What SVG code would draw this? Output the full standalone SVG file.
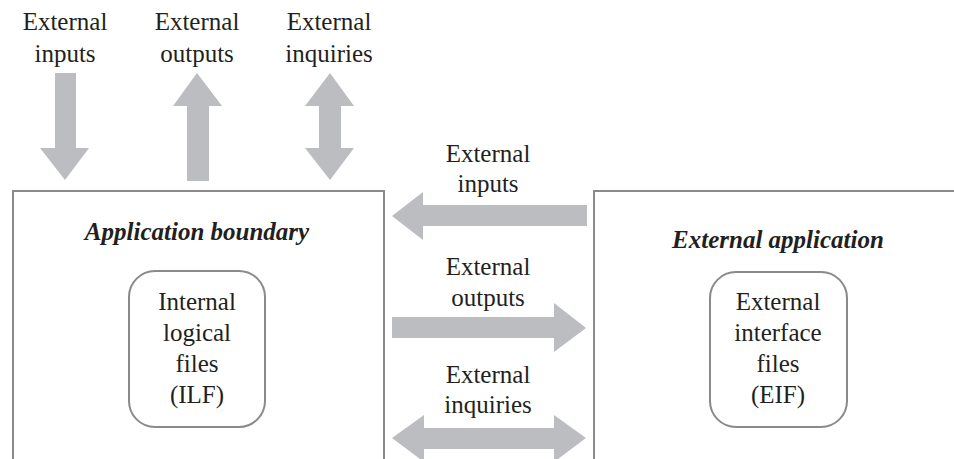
<svg xmlns="http://www.w3.org/2000/svg" width="954" height="459" viewBox="0 0 954 459">
  <style>
    text { font-family: 'Liberation Serif', 'Times New Roman', serif; font-size: 25px; fill: #231f20; text-anchor: middle; }
    .title { font-weight: bold; font-style: italic; }
    .frame { fill: none; stroke: #8a8a8c; stroke-width: 2; }
    .store { fill: #ffffff; stroke: #8a8a8c; stroke-width: 2; }
    .flow { fill: #bcbdc0; }
  </style>
  <rect width="954" height="459" fill="#ffffff"/>

  <!-- application boundary, open at the bottom -->
  <g id="app-boundary">
    <path class="frame" d="M13,459 V191 H384 V459"/>
    <text class="title" x="197" y="240">Application boundary</text>
  </g>

  <!-- external application, open at the bottom and right -->
  <g id="external-app">
    <path class="frame" d="M594,459 V191 H954"/>
    <text class="title" x="778" y="248">External application</text>
  </g>

  <g id="ilf">
    <rect class="store" x="129" y="271" width="136" height="156" rx="26" ry="26"/>
    <text x="197" y="310">Internal</text>
    <text x="197" y="341">logical</text>
    <text x="197" y="372">files</text>
    <text x="197" y="403">(ILF)</text>
  </g>

  <g id="eif">
    <rect class="store" x="710" y="272" width="137" height="155" rx="26" ry="26"/>
    <text x="778" y="310">External</text>
    <text x="778" y="341">interface</text>
    <text x="778" y="372">files</text>
    <text x="778" y="403">(EIF)</text>
  </g>

  <!-- block-arrow flows -->
  <g id="connectors">
    <!-- top: external inputs (down) -->
    <polygon class="flow" points="55,73 76,73 76,148 89,148 65,180 40,148 55,148"/>
    <!-- top: external outputs (up) -->
    <polygon class="flow" points="187,181 209,181 209,106 222,106 197,73 173,106 187,106"/>
    <!-- top: external inquiries (both ways) -->
    <polygon class="flow" points="330,73 354,106 341,106 341,148 354,148 330,180 305,148 319,148 319,106 305,106"/>
    <!-- middle: external inputs (leftwards) -->
    <polygon class="flow" points="587,205 587,226 423,226 423,240 392,216 423,192 423,205"/>
    <!-- middle: external outputs (rightwards) -->
    <polygon class="flow" points="392,317 554,317 554,303 586,328 554,352 554,338 392,338"/>
    <!-- middle: external inquiries (both ways) -->
    <polygon class="flow" points="392,438 424,415 424,428 554,428 554,415 586,438 554,462 554,449 424,449 424,462"/>
  </g>

  <g id="flow-labels">
    <text x="65" y="30">External</text>
    <text x="65" y="62">inputs</text>
    <text x="197" y="30">External</text>
    <text x="197" y="62">outputs</text>
    <text x="329" y="30">External</text>
    <text x="329" y="62">inquiries</text>
    <text x="488" y="162">External</text>
    <text x="488" y="192">inputs</text>
    <text x="488" y="275">External</text>
    <text x="488" y="306">outputs</text>
    <text x="488" y="383">External</text>
    <text x="488" y="413">inquiries</text>
  </g>
</svg>
